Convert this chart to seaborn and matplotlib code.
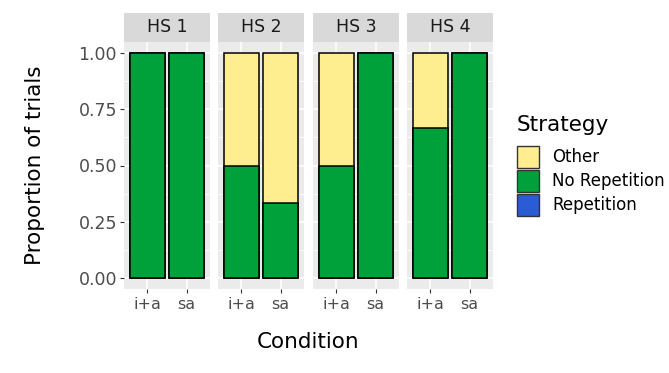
import matplotlib
matplotlib.use("Agg")
import matplotlib.pyplot as plt
from matplotlib.patches import Rectangle
from matplotlib.ticker import MultipleLocator, FormatStrFormatter
import pandas as pd
import seaborn as sns

# Proportion of trials per strategy, by participant (HS) and condition
subjects = ["HS 1", "HS 2", "HS 3", "HS 4"]
conditions = ["i+a", "sa"]
other = [0.0, 0.0, 0.5, 0.667, 0.5, 0.0, 0.333, 0.0]
no_repetition = [1.0, 1.0, 0.5, 0.333, 0.5, 1.0, 0.667, 1.0]
repetition = [0.0, 0.0, 0.0, 0.0, 0.0, 0.0, 0.0, 0.0]

strategies = ["Other", "No Repetition", "Repetition"]
colors = {"Other": "#FFEE90", "No Repetition": "#00A03A", "Repetition": "#2A5CD6"}

rows = []
for i, s in enumerate(subjects):
    for j, c in enumerate(conditions):
        k = i * 2 + j
        rows.append({"subject": s, "condition": c,
                     "Other": other[k],
                     "No Repetition": no_repetition[k],
                     "Repetition": repetition[k]})
df = pd.DataFrame(rows)
# stack order from the bottom: Repetition, No Repetition, Other
df["top_rep"] = df["Repetition"]
df["top_norep"] = df["Repetition"] + df["No Repetition"]
df["top_other"] = df["top_norep"] + df["Other"]

sns.set_theme(style="white")
plt.rcParams["font.family"] = ["DejaVu Sans"]

W, H = 669, 373
fig = plt.figure(figsize=(W / 100, H / 100), dpi=100)

panel_left = [124, 218, 313, 407]
panel_w = 86
panel_top, panel_bottom = 42, 289
strip_top = 13

tick_color = "#4D4D4D"

for idx, s in enumerate(subjects):
    x0 = panel_left[idx]
    ax = fig.add_axes([x0 / W, (H - panel_bottom) / H, panel_w / W,
                       (panel_bottom - panel_top) / H])
    ax.set_facecolor("#EBEBEB")
    sub = df[df["subject"] == s]
    for col, name in [("top_other", "Other"), ("top_norep", "No Repetition"),
                      ("top_rep", "Repetition")]:
        sns.barplot(data=sub, x="condition", y=col, order=conditions,
                    color=colors[name], saturation=1, width=0.9,
                    edgecolor="black", linewidth=1.1, ax=ax, errorbar=None)
    # hide zero-height segments so no stray outlines appear
    for p in ax.patches:
        if p.get_height() <= 1e-9:
            p.set_visible(False)
    ax.set_xlim(-0.6, 1.6)
    ax.set_ylim(-0.05, 1.05)
    ax.yaxis.set_major_locator(MultipleLocator(0.25))
    ax.yaxis.set_minor_locator(MultipleLocator(0.125))
    ax.yaxis.set_major_formatter(FormatStrFormatter("%.2f"))
    ax.set_axisbelow(True)
    ax.grid(which="major", color="white", linewidth=1.1)
    ax.grid(which="minor", axis="y", color="white", linewidth=0.55)
    for sp in ax.spines.values():
        sp.set_visible(False)
    ax.set_xlabel("")
    ax.set_ylabel("")
    ax.tick_params(axis="both", which="major", length=3, width=0.8,
                   color="#333333", labelcolor=tick_color, labelsize=12.5, pad=2)
    ax.tick_params(axis="both", which="minor", length=0)
    ax.tick_params(axis="x", bottom=True, labelsize=11.5, pad=3)
    if idx == 0:
        ax.tick_params(axis="y", left=True)
    else:
        ax.tick_params(axis="y", left=False, labelleft=False)

    # facet strip
    sax = fig.add_axes([x0 / W, (H - panel_top) / H, panel_w / W,
                        (panel_top - strip_top) / H])
    sax.set_facecolor("#D9D9D9")
    sax.set_xticks([])
    sax.set_yticks([])
    for sp in sax.spines.values():
        sp.set_visible(False)
    sax.text(0.5, 0.5, s, ha="center", va="center", fontsize=12.5,
             color="#1A1A1A", transform=sax.transAxes)

# axis titles
fig.text(35 / W, 1 - 165 / H, "Proportion of trials", rotation=90,
         ha="center", va="center", fontsize=15.5, color="black")
fig.text(308 / W, 1 - 342 / H, "Condition", ha="center", va="center",
         fontsize=15.5, color="black")

# legend
fig.text(517 / W, 1 - 125 / H, "Strategy", ha="left", va="center",
         fontsize=15.5, color="black")
key_w, key_h = 22, 22
for i, name in enumerate(strategies):
    ky = 146 + i * 24
    fig.patches.append(Rectangle((517 / W, 1 - (ky + key_h) / H), key_w / W,
                                 key_h / H, transform=fig.transFigure,
                                 facecolor=colors[name], edgecolor="#333333",
                                 linewidth=1.0))
    fig.text(552 / W, 1 - (ky + key_h / 2) / H, name, ha="left", va="center",
             fontsize=12, color="black")

fig.savefig("out.png", dpi=100)
